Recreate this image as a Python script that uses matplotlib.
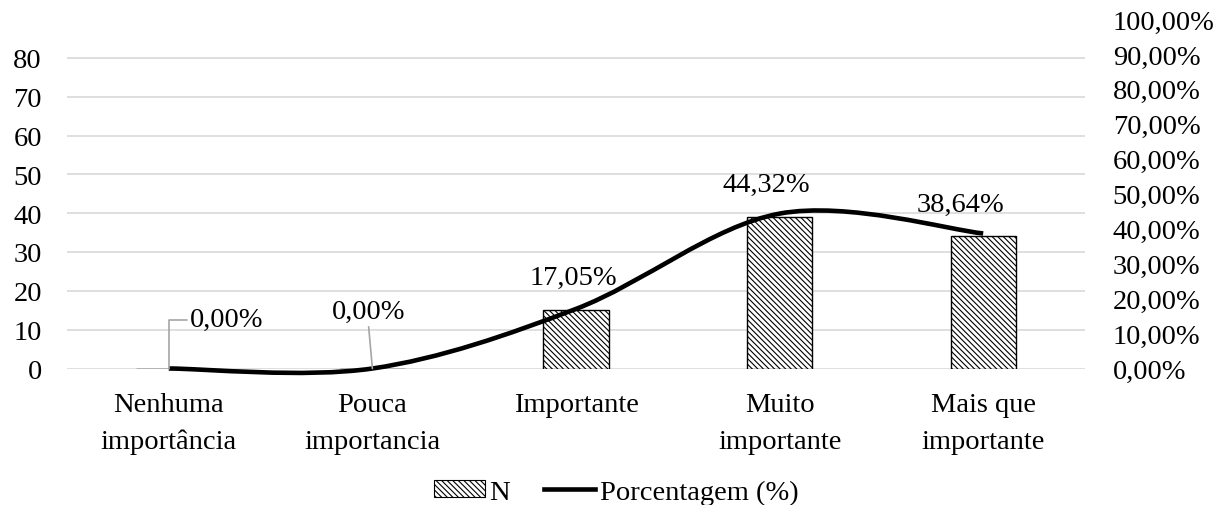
import matplotlib
matplotlib.use("Agg")
import matplotlib.pyplot as plt
import numpy as np
from matplotlib.path import Path
from matplotlib.patches import PathPatch, Patch
from matplotlib.lines import Line2D

plt.rcParams["font.family"] = ["Liberation Serif", "DejaVu Serif"]
plt.rcParams["font.size"] = 20.5
plt.rcParams["hatch.linewidth"] = 0.8

categorias = ["Nenhuma\nimportância", "Pouca\nimportancia", "Importante",
              "Muito\nimportante", "Mais que\nimportante"]
n_respostas = [0, 0, 15, 39, 34]
porcentagem = [0.00, 0.00, 17.05, 44.32, 38.64]

left_ticks = list(range(0, 90, 10))
right_ticks = list(range(0, 110, 10))

# label offsets in pixels (x, y) relative to each point
offsets = [(21, 49), (-4, 57), (-3, 32), (-13, 29), (-23, 29)]

HATCH = "\\" * 6


def smooth_path(xs, ys):
    # Catmull-Rom style cubic Bezier segments through the points
    pts = np.column_stack([xs, ys]).astype(float)
    ext = np.vstack([pts[0], pts, pts[-1]])
    verts = [pts[0]]
    codes = [Path.MOVETO]
    for i in range(len(pts) - 1):
        p0, p1, p2, p3 = ext[i], ext[i + 1], ext[i + 2], ext[i + 3]
        c1 = p1 + (p2 - p0) / 6.0
        c2 = p2 - (p3 - p1) / 6.0
        verts += [c1, c2, p2]
        codes += [Path.CURVE4] * 3
    return Path(verts, codes)


fig = plt.figure(figsize=(12.18, 5.06), dpi=100)
ax = fig.add_axes([67 / 1218, 1 - 369.5 / 506, (1085 - 67) / 1218, 349.5 / 506])
x = np.arange(len(categorias))

for y in left_ticks:
    ax.axhline(y, color="#d9d9d9", lw=1.2, zorder=0)
ax.bar(x, n_respostas, width=0.32, color="white", edgecolor="black",
       linewidth=1.0, hatch=HATCH, zorder=2)

ax.set_xlim(-0.5, len(categorias) - 0.5)
ax.set_ylim(0, 90)
ax.set_yticks(left_ticks)
ax.set_xticks(x)
ax.set_xticklabels(categorias, linespacing=1.6)
ax.tick_params(axis="both", length=0)
ax.tick_params(axis="y", pad=18)
ax.tick_params(axis="x", pad=17)
for s in ax.spines.values():
    s.set_visible(False)

ax2 = ax.twinx()
ax2.set_ylim(0, 100)
ax2.set_yticks(right_ticks)
ax2.set_yticklabels([f"{t:.2f}%".replace(".", ",") for t in right_ticks])
ax2.tick_params(axis="y", length=0, pad=20)
for s in ax2.spines.values():
    s.set_visible(False)

curve = PathPatch(smooth_path(x, porcentagem), facecolor="none",
                  edgecolor="black", lw=3.3, capstyle="butt",
                  joinstyle="round", zorder=3)
curve.set_clip_on(False)
ax2.add_patch(curve)

for i, (xi, v) in enumerate(zip(x, porcentagem)):
    txt = f"{v:.2f}%".replace(".", ",")
    dx, dy = offsets[i]
    if i == 0:
        ax2.annotate(txt, (xi, v), xytext=(dx, dy), textcoords="offset pixels",
                     ha="left", va="center",
                     arrowprops=dict(arrowstyle="-", color="#a6a6a6", lw=1.2,
                                     relpos=(0, 0.5), shrinkA=0, shrinkB=0,
                                     connectionstyle="angle,angleA=180,angleB=90,rad=0"))
    elif i == 1:
        ax2.annotate(txt, (xi, v), xytext=(dx, dy), textcoords="offset pixels",
                     ha="center", va="center",
                     arrowprops=dict(arrowstyle="-", color="#a6a6a6", lw=1.2,
                                     relpos=(0.5, 0), shrinkA=0, shrinkB=0))
    else:
        ax2.annotate(txt, (xi, v), xytext=(dx, dy), textcoords="offset pixels",
                     ha="center", va="center")

handles = [Patch(facecolor="white", edgecolor="black", hatch=HATCH, lw=0.8),
           Line2D([0], [0], color="black", lw=3.3)]
fig.legend(handles, ["N", "Porcentagem (%)"], loc="center",
           bbox_to_anchor=(616 / 1218, 1 - 493 / 506), ncol=2, frameon=False,
           handlelength=1.8, handleheight=0.55, handletextpad=0.15,
           columnspacing=1.2, borderaxespad=0)

fig.savefig("out.png", dpi=100)
